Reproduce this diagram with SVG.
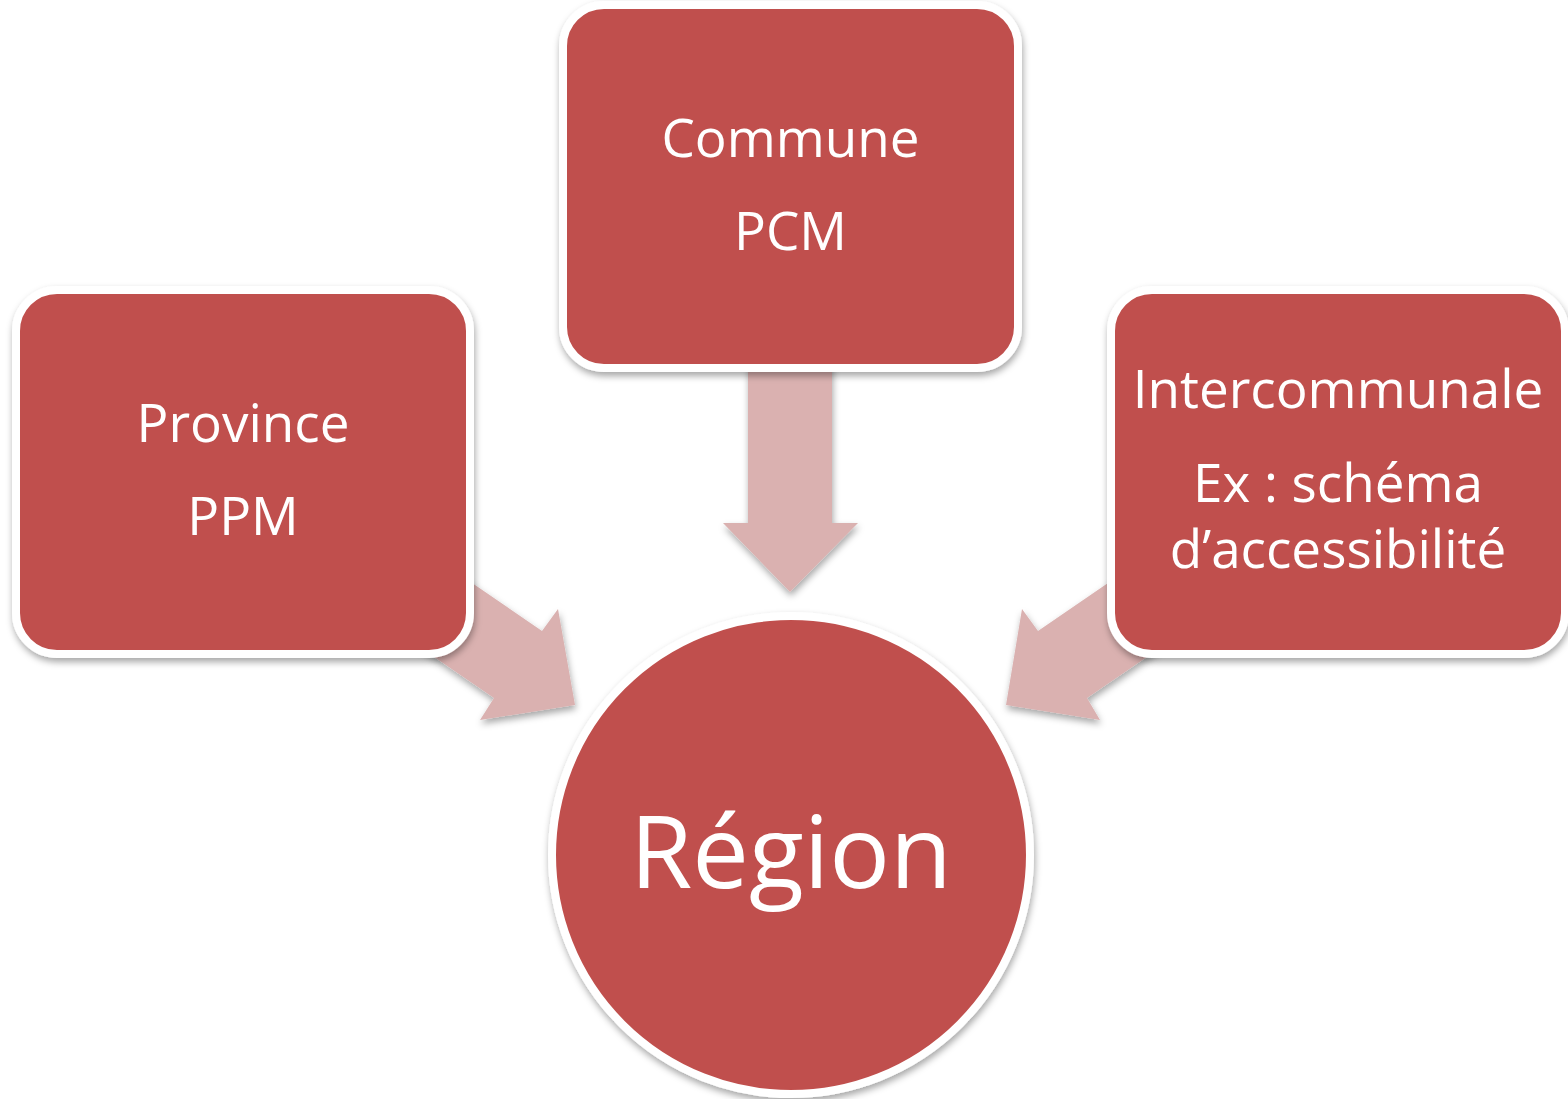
<svg xmlns="http://www.w3.org/2000/svg" width="1568" height="1099" viewBox="0 0 1568 1099">
<defs>
<filter id="sh" x="-10%" y="-10%" width="130%" height="130%">
<feDropShadow dx="1" dy="4" stdDeviation="3.5" flood-color="#000" flood-opacity="0.35"/>
</filter>
<style>
.node{fill:#C0504D;stroke:#FFFFFF;stroke-width:8;filter:url(#sh)}
.arr{fill:#DAB1B0;filter:url(#sh)}
.t{fill:#FFFFFF;font-family:"Open Sans","Noto Sans","DejaVu Sans",sans-serif;font-size:53px;text-anchor:middle}
.big{font-size:101px}
</style>
</defs>
<rect width="1568" height="1099" fill="#FFFFFF"/>
<g id="connectors">
<polygon class="arr" points="748,360 832,360 832,523 858,523 790,592 723,523 748,523"/>
<polygon class="arr" points="418,546 542,631 558,609 575,705 480,720 494,698 370,613"/>
<polygon class="arr" points="1162,546 1038,631 1022,609 1006,705 1100,720 1087,698 1211,613"/>
</g>
<g id="node-commune">
<rect class="node" x="563" y="5" width="455" height="363" rx="41"/>
<text class="t" x="790.5" y="157">Commune</text>
<text class="t" x="790.5" y="250">PCM</text>
</g>
<g id="node-province">
<rect class="node" x="16" y="290" width="454" height="364" rx="41"/>
<text class="t" x="243" y="442">Province</text>
<text class="t" x="243" y="535">PPM</text>
</g>
<g id="node-intercommunale">
<rect class="node" x="1111" y="290" width="454" height="364" rx="41"/>
<text class="t" x="1338" y="408">Intercommunale</text>
<text class="t" x="1338" y="502">Ex : schéma</text>
<text class="t" x="1338" y="568">d’accessibilité</text>
</g>
<g id="node-region">
<circle class="node" cx="791" cy="855" r="239"/>
<text class="t big" x="791" y="888">Région</text>
</g>
</svg>
